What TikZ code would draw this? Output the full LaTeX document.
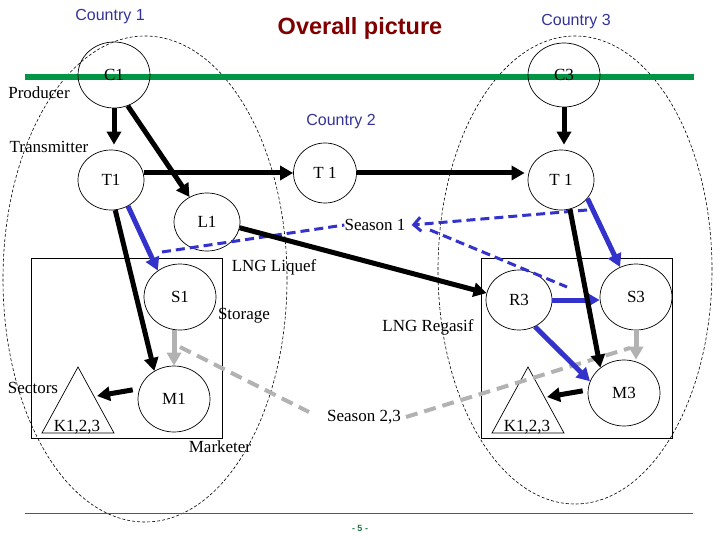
\documentclass[tikz,border=0pt]{standalone}
\usepackage{fontspec}
\setmainfont{Liberation Serif}
\newfontfamily\sansf{Liberation Sans}
\usetikzlibrary{arrows.meta,shapes.geometric}
\definecolor{myblue}{RGB}{51,51,204}
\definecolor{ctyblue}{RGB}{51,51,153}
\definecolor{titlered}{RGB}{128,0,0}
\definecolor{mygray}{RGB}{178,178,178}
\definecolor{tgreen}{RGB}{0,150,70}
\definecolor{bgreen}{RGB}{30,120,70}
\tikzset{
  circ/.style={ellipse, draw, line width=0.7pt, inner sep=0pt, font=\fontsize{17}{17}\selectfont},
  lbl/.style={inner sep=0pt, font=\fontsize{17}{17}\selectfont},
  cty/.style={inner sep=0pt, font=\sansf\fontsize{16}{16}\selectfont, text=ctyblue},
  blk/.style={line width=5pt, -{Triangle[length=13pt,width=14pt]}},
  blu/.style={blk, draw=myblue},
  gry/.style={blk, draw=mygray},
  bdash/.style={draw=myblue, line width=3pt, dash pattern=on 9pt off 5pt},
  gdash/.style={draw=mygray, line width=4pt, dash pattern=on 12pt off 7pt},
  region/.style={line width=0.6pt, dash pattern=on 3pt off 2pt},
  box/.style={line width=0.8pt},
}
\begin{document}
\begin{tikzpicture}[x=1pt,y=-1pt]
\useasboundingbox[fill=white] (0,0) rectangle (720,540);
% country regions
\draw[region] (145,279) ellipse [x radius=142pt, y radius=243pt];
\draw[region] (575,270) ellipse [x radius=137pt, y radius=234pt];
% boxes
\draw[box] (31,258) rectangle (222,438);
\draw[box] (481,258) rectangle (672,438);
% green lines
\coordinate (gl) at (25,77);
\coordinate (gr) at (694,77);
\draw[line width=6pt, draw=tgreen] (gl) -- (gr);
\coordinate (bl) at (25,513);
\coordinate (br) at (693,513);
\draw[line width=1pt, draw=bgreen] (bl) -- (br);
% triangles
\draw[line width=0.7pt] (78,367) -- (114,433) -- (42,433) -- cycle;
\draw[line width=0.7pt] (528,367) -- (564,433) -- (492,433) -- cycle;
% circle nodes
\node[circ, minimum width=72pt, minimum height=66pt] (C1) at (114,75) {C1};
\node[circ, minimum width=72pt, minimum height=64pt] (C3) at (564,75) {C3};
\node[circ, minimum width=66pt, minimum height=60pt] (T1L) at (111,180) {T1};
\node[circ, minimum width=63pt, minimum height=60pt] (T1M) at (325,173) {T 1};
\node[circ, minimum width=66pt, minimum height=60pt] (T1R) at (561,180) {T 1};
\node[circ, minimum width=66pt, minimum height=58pt] (L1) at (207,222) {L1};
\node[circ, minimum width=72pt, minimum height=66pt] (S1) at (180,297) {S1};
\node[circ, minimum width=72pt, minimum height=66pt] (M1) at (174,399) {M1};
\node[circ, minimum width=66pt, minimum height=60pt] (R3) at (519,300) {R3};
\node[circ, minimum width=72pt, minimum height=66pt] (S3) at (636,297) {S3};
\node[circ, minimum width=72pt, minimum height=66pt] (M3) at (624,393) {M3};
% texts
\node[cty] (cty1) at (110,17) {Country 1};
\node[cty] (cty2) at (341,122) {Country 2};
\node[cty] (cty3) at (576,22) {Country 3};
\node[inner sep=0pt, font=\sansf\bfseries\fontsize{23.5}{24}\selectfont, text=titlered] (title) at (360,28) {Overall picture};
\node[lbl] (prod) at (39,93) {Producer};
\node[lbl] (trans) at (49,147) {Transmitter};
\node[lbl] (sea1) at (375,225) {Season 1};
\node[lbl] (liq) at (274,267) {LNG Liquef};
\node[lbl] (stor) at (244,316) {Storage};
\node[lbl] (regas) at (428,327) {LNG Regasif};
\node[lbl] (sect) at (33,388) {Sectors};
\node[lbl] (k1) at (77,427) {K1,2,3};
\node[lbl] (mkt) at (220,447) {Marketer};
\node[lbl] (sea23) at (364,417) {Season 2,3};
\node[lbl] (k3) at (527,427) {K1,2,3};
\node[inner sep=0pt, font=\sansf\bfseries\fontsize{9}{9}\selectfont, text=bgreen] (pg) at (360,528) {- 5 -};
% free ends
\coordinate (tri1r) at (97,396);
\coordinate (tri3r) at (547,397);
\coordinate (bd1a) at (162,252);
\coordinate (bd2a) at (587,210);
\coordinate (bd3a) at (430,230);
\coordinate (bd3b) at (567,287);
\coordinate (gd1a) at (180,347);
\coordinate (gd2b) at (630,348);
% dashed season connectors
\draw[bdash] (bd1a) -- (sea1.west);
\draw[bdash, -{Straight Barb[length=7pt,width=14pt]}] (bd2a) -- ([xshift=6pt]sea1.east);
\draw[bdash] (bd3a) -- (bd3b);
\draw[gdash] (gd1a) -- ([xshift=-18pt,yshift=5pt]sea23.west);
\draw[gdash] ([xshift=5pt]sea23.east) -- (gd2b);
% flow arrows
\draw[blk, shorten >=5pt] (C1.south) -- (C1.south |- T1L.north);
\draw[blk] (C1.-66) -- (L1.125);
\draw[blk] ([yshift=7pt]T1L.east) -- (T1M.west);
\draw[blk, shorten >=3pt] (T1M.east) -- ([yshift=7pt]T1R.west);
\draw[blk, shorten >=5pt] (C3.south) -- (C3.south |- T1R.north);
\draw[blu] (T1L.-57) -- (S1.130);
\draw[blk] (T1L.-82) -- (M1.125);
\draw[blk] (L1.-10) -- (R3.168);
\draw[blu] (T1R.-35) -- (S3.118);
\draw[blu] (R3.east) -- ([yshift=-3pt]S3.west);
\draw[blu] (R3.-59) -- (M3.161);
\draw[blk] (T1R.-73) -- (M3.133);
\draw[gry] (S3.south) -- (S3.south |- M3.north);
\draw[gry] (M1.north |- S1.south) -- (M1.north);
\draw[blk, shorten <=5pt] ([yshift=3pt]M3.west) -- (tri3r);
\draw[blk, shorten <=5pt] ([yshift=10pt]M1.west) -- (tri1r);
\end{tikzpicture}
\end{document}
